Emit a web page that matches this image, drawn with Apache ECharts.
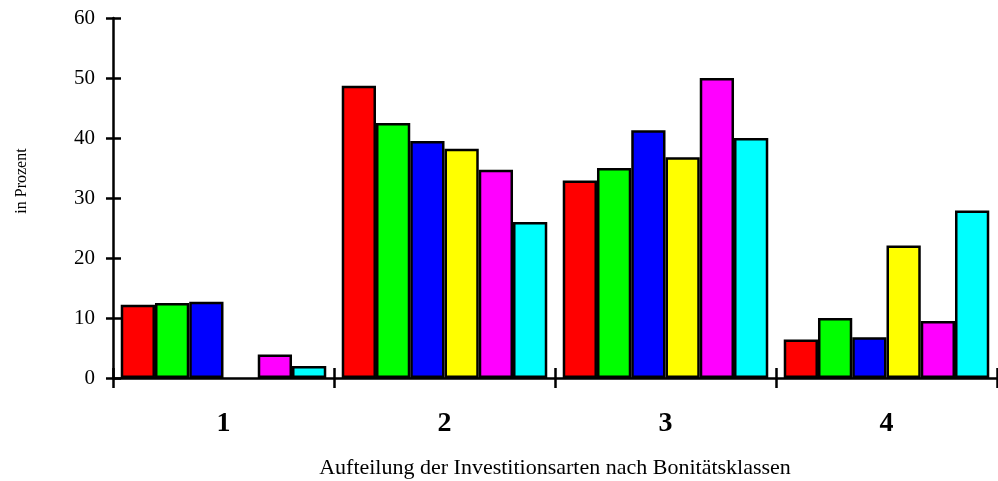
<!DOCTYPE html>
<html><head><meta charset="utf-8">
<script src="https://cdn.jsdelivr.net/npm/echarts@6/dist/echarts.min.js"></script>
<style>html,body{margin:0;padding:0;background:#fff}#c{width:998px;height:481px}</style>
</head><body><div id="c"></div>
<script>
const categories = ['1', '2', '3', '4'];
const seriesNames = ['Serie A', 'Serie B', 'Serie C', 'Serie D', 'Serie E', 'Serie F'];
const serieA = [12.2, 48.7, 32.9, 6.4];
const serieB = [12.5, 42.5, 35.0, 10.0];
const serieC = [12.7, 39.5, 41.3, 6.8];
const serieD = ['-', 38.2, 36.8, 22.1];
const serieE = [3.9, 34.7, 50.0, 9.5];
const serieF = [2.0, 26.0, 40.0, 27.9];
const yTicks = [0, 10, 20, 30, 40, 50, 60];
const colors = ['#ff0000', '#00ff00', '#0000ff', '#ffff00', '#ff00ff', '#00ffff'];

const allData = [serieA, serieB, serieC, serieD, serieE, serieF];
const font = 'Liberation Serif, Times New Roman, serif';
const chart = echarts.init(document.getElementById('c'));
const lineStyle = {color: '#000', width: 2.5};
chart.setOption({
  animation: false,
  color: colors,
  grid: {left: 113, right: 1, top: 18, bottom: 103, containLabel: false, outerBoundsMode: 'none'},
  graphic: [{
    type: 'text', x: 22, y: 181, rotation: Math.PI / 2,
    style: {text: 'in Prozent', font: '16px ' + font, fill: '#000',
      align: 'center', verticalAlign: 'middle'}
  }],
  xAxis: [{
    type: 'category', data: categories,
    axisLine: {lineStyle: lineStyle},
    axisTick: {show: true, length: 10, lineStyle: lineStyle},
    axisLabel: {fontFamily: font, fontSize: 28, fontWeight: 'bold', color: '#000', margin: 32},
    name: 'Aufteilung der Investitionsarten nach Bonitätsklassen',
    nameLocation: 'middle', nameGap: 79,
    nameTextStyle: {fontFamily: font, fontSize: 22, color: '#000'}
  }, {
    type: 'category', data: categories, position: 'bottom',
    axisLine: {show: false},
    axisTick: {show: true, inside: true, length: 10, lineStyle: lineStyle},
    axisLabel: {show: false}
  }],
  yAxis: [{
    type: 'value', min: 0, max: 60, interval: 10,
    axisLine: {show: true, lineStyle: lineStyle},
    axisTick: {show: true, length: 7, lineStyle: lineStyle},
    splitLine: {show: false},
    axisLabel: {fontFamily: font, fontSize: 21, color: '#000', margin: 18,
      formatter: v => yTicks.includes(v) ? String(v) : ''}
  }, {
    type: 'value', min: 0, max: 60, interval: 10, position: 'left',
    axisLine: {show: false},
    axisTick: {show: true, inside: true, length: 8, lineStyle: lineStyle},
    splitLine: {show: false},
    axisLabel: {show: false}
  }],
  series: allData.map((d, i) => ({
    type: 'bar', name: seriesNames[i], data: d,
    xAxisIndex: 0, yAxisIndex: 0,
    barGap: '0%', barCategoryGap: '7%',
    itemStyle: {color: colors[i], borderColor: '#000', borderWidth: 2.5}
  }))
});
</script></body></html>
